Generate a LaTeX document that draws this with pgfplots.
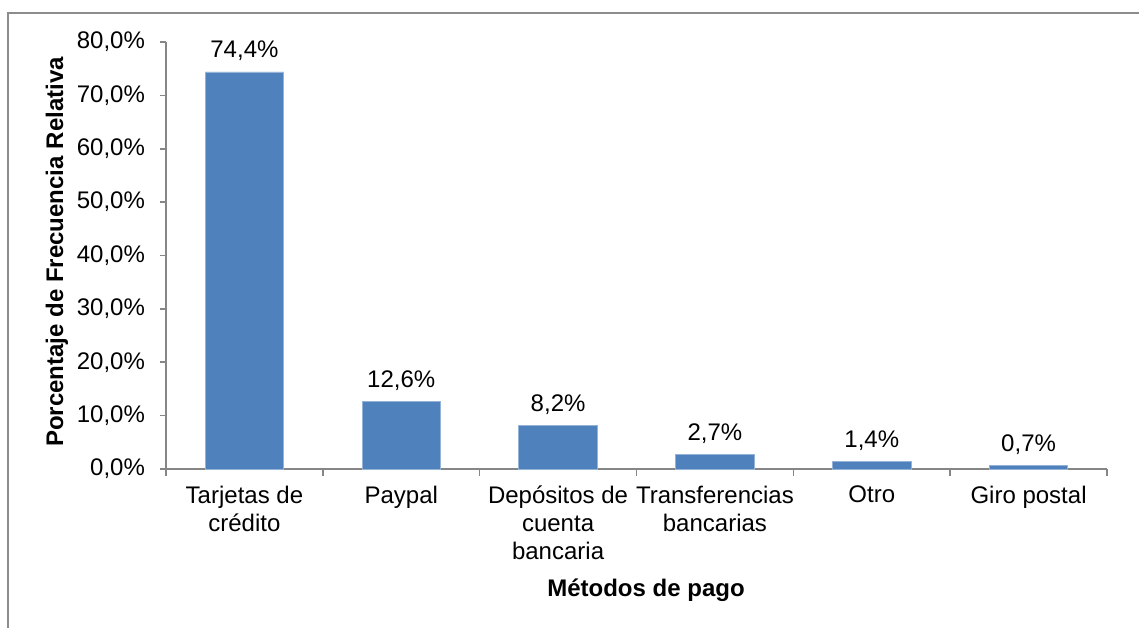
\documentclass[border=0pt]{standalone}
\usepackage{pgfplots}
\pgfplotsset{compat=1.18}
\usepackage{fontspec}
\setmainfont{Liberation Sans}
\definecolor{barblue}{HTML}{4F81BD}
\definecolor{axgray}{HTML}{868686}
\definecolor{framegray}{HTML}{8C8C8C}
\begin{document}
\begin{tikzpicture}[x=0.5pt,y=0.5pt]
\path[use as bounding box] (0,0) rectangle (1139,628);
\draw[framegray, line width=1.1pt] (8,0) -- (8,615) -- (1139,615);
\begin{axis}[
  at={(166*0.5pt,159*0.5pt)}, anchor=south west,
  scale only axis, width=470.5pt, height=213.5pt,
  xmin=-0.5, xmax=5.5, ymin=0, ymax=80,
  ytick={0,10,...,80},
  xtick={0,...,5},
  xticklabels={{Tarjetas de\\crédito},Paypal,{Depósitos de\\cuenta\\bancaria},{Transferencias\\bancarias},Otro,Giro postal},
  minor xtick={-0.5,0.5,...,5.5},
  major x tick style={draw=none},
  tick align=outside,
  major tick length=3pt, minor tick length=3.5pt,
  tick style={axgray, line width=0.8pt},
  axis x line*=bottom, axis y line*=left,
  axis line style={axgray, line width=0.9pt, -},
  /pgf/number format/assume math mode=true,
  yticklabel={\pgfmathprintnumber[fixed,fixed zerofill,precision=1,use comma]{\tick}\%},
  ticklabel style={font=\fontsize{12}{14}\selectfont},
  xticklabel style={align=center, yshift=-2pt},
  yticklabel style={xshift=-4pt},
  ybar, bar width=0.5,
  nodes near coords={\pgfmathprintnumber[fixed,fixed zerofill,precision=1,use comma,assume math mode=true]{\pgfplotspointmeta}\%},
  nodes near coords style={font=\fontsize{12}{14}\selectfont, black, yshift=2pt},
  clip=false,
]
\addplot[fill=barblue, draw=barblue!60!white, line width=0.4pt] coordinates {(0,74.4) (1,12.6) (2,8.2) (3,2.7) (4,1.4) (5,0.7)};
\end{axis}
\node[rotate=90, font=\fontsize{12}{14}\selectfont\bfseries] at (57,376) {Porcentaje de Frecuencia Relativa};
\node[font=\fontsize{12}{14}\selectfont\bfseries] at (646,38) {Métodos de pago};
\end{tikzpicture}
\end{document}
